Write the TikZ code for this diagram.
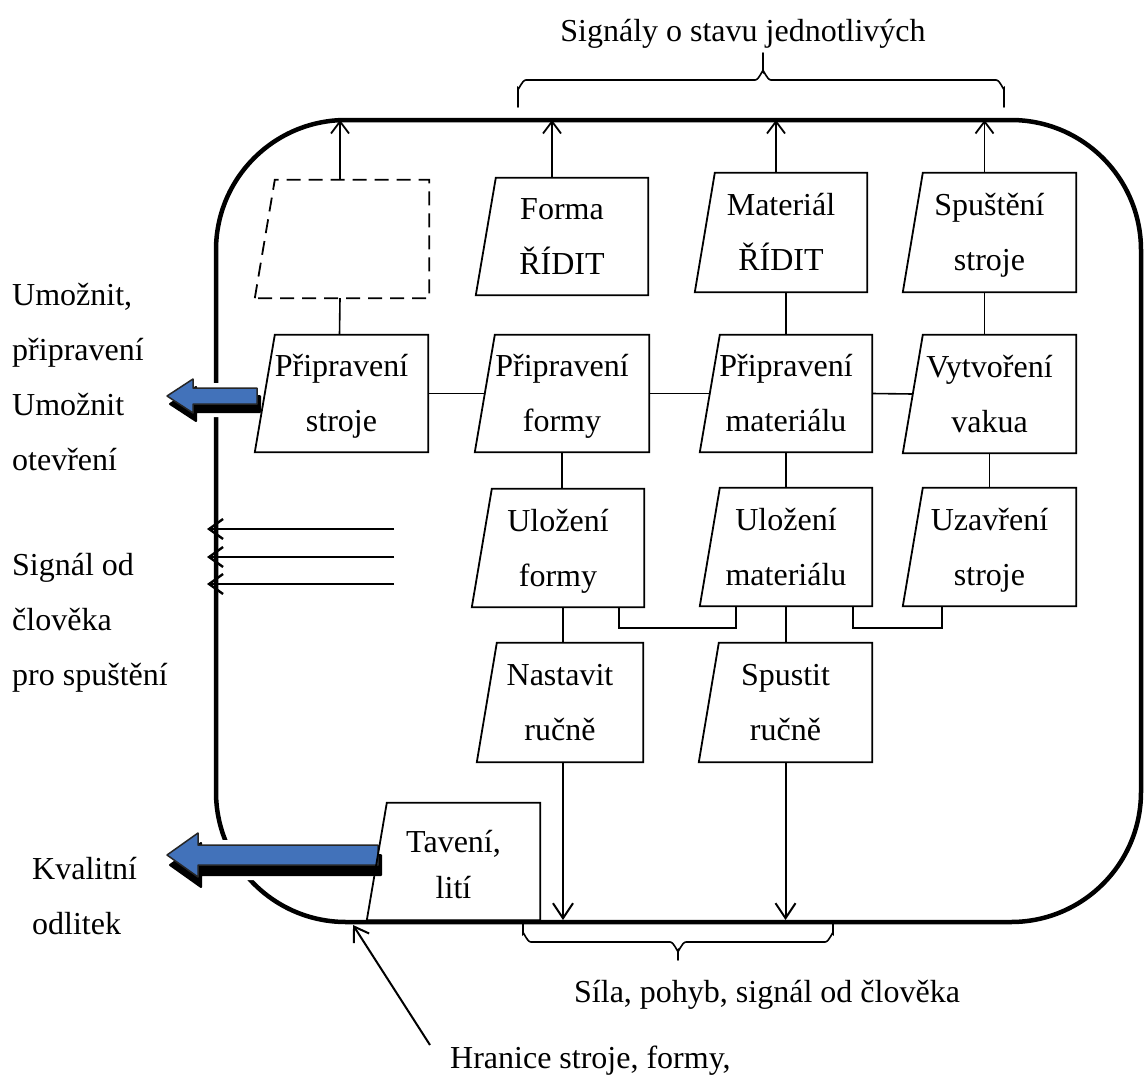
\documentclass[tikz,border=0pt]{standalone}
\usepackage{fontspec}
\setmainfont{Liberation Serif}
\usetikzlibrary{arrows.meta,calc}
\definecolor{arrowblue}{RGB}{66,114,186}
\newcommand\twol[2]{\rule{0pt}{30pt}#1\\#2\rule[-9pt]{0pt}{9pt}}
% #1 outline style, #2 name, #3 x0, #4 x1, #5 y0, #6 y1, #7 text
\newcommand\manbox[7][boxline]{%
  \node[boxtext, minimum width={#4-#3}, minimum height={#6-#5}] (#2) at ({(#3+#4)/2},{(#5+#6)/2}) {#7};
  \draw[#1] (#2.south west) -- ([xshift=20pt]#2.north west) -- (#2.north east) -- (#2.south east) -- cycle;}
% #1 tip x, #2 centre y, #3 tail x, #4 head back x, #5 head half, #6 shaft half, #7 shadow dy
\newcommand\bluearrow[7]{%
  \filldraw[white,line width=10pt,line join=round] (#3,#2-#6) -- (#4,#2-#6) -- (#4,#2-#5) -- (#1,#2) -- (#4,#2+#5) -- (#4,#2+#6) -- (#3,#2+#6) -- cycle;
  \begin{scope}[shift={(3,#7)}]
  \filldraw[white,line width=10pt,line join=round] (#3,#2-#6) -- (#4,#2-#6) -- (#4,#2-#5) -- (#1,#2) -- (#4,#2+#5) -- (#4,#2+#6) -- (#3,#2+#6) -- cycle;
  \filldraw[black,line width=2pt,line join=round] (#3,#2-#6) -- (#4,#2-#6) -- (#4,#2-#5) -- (#1,#2) -- (#4,#2+#5) -- (#4,#2+#6) -- (#3,#2+#6) -- cycle;
  \end{scope}
  \filldraw[fill=arrowblue,draw=black!85,line width=1.5pt,line join=round] (#3,#2-#6) -- (#4,#2-#6) -- (#4,#2-#5) -- (#1,#2) -- (#4,#2+#5) -- (#4,#2+#6) -- (#3,#2+#6) -- cycle;}

\begin{document}
\begin{tikzpicture}[x=1pt,y=-1pt,
  boxtext/.style={font=\fontsize{32}{55}\selectfont, align=center, inner sep=0pt},
  boxline/.style={line width=1.8pt, line join=miter},
  dashbox/.style={line width=1.8pt, dash pattern=on 14pt off 8pt},
  lbl/.style={font=\fontsize{32}{55}\selectfont, align=left, inner sep=0pt},
  conn/.style={line width=1.6pt},
  uparrow/.style={line width=1.8pt, -{Straight Barb[length=12pt,width=18pt]}},
  downarrow/.style={line width=2pt, -{Straight Barb[length=15pt,width=20pt]}},
  inarrow/.style={line width=2.4pt, -{Straight Barb[length=14pt,width=20pt]}},
  brace/.style={line width=1.6pt, line cap=round}]
\useasboundingbox (0,0) rectangle (1144,1079);

% system boundary
\draw[line width=4.5pt, rounded corners=130pt] (216,120) rectangle (1141,922);
\coordinate (topl) at (0,120);
\coordinate (botl) at (0,920);
\coordinate (leftl) at (207,0);

% block arrows (outputs)
\bluearrow{167}{396}{257}{193}{17}{8}{8}
\bluearrow{167}{855}{378}{198}{22}{10}{10}

% boxes
\manbox[dashbox]{db}{255}{429}{180}{298}{}
\manbox{fr}{476}{648}{178}{295}{\twol{Forma}{ŘÍDIT}}
\manbox{mr}{695}{867}{173}{292}{\twol{Materiál}{ŘÍDIT}}
\manbox{sp}{903}{1076}{173}{292}{\twol{Spuštění}{stroje}}
\manbox{ps}{255}{428}{335}{452}{\twol{Připravení}{stroje}}
\manbox{pf}{475}{649}{335}{452}{\twol{Připravení}{formy}}
\manbox{pm}{700}{872}{335}{452}{\twol{Připravení}{materiálu}}
\manbox{vv}{903}{1076}{335}{453}{\twol{Vytvoření}{vakua}}
\manbox{uf}{472}{644}{489}{607}{\twol{Uložení}{formy}}
\manbox{um}{700}{872}{488}{606}{\twol{Uložení}{materiálu}}
\manbox{uz}{903}{1076}{488}{606}{\twol{Uzavření}{stroje}}
\manbox{nr}{477}{643}{643}{762}{\twol{Nastavit}{ručně}}
\manbox{sr}{699}{872}{643}{762}{\twol{Spustit}{ručně}}
\node[boxtext, font=\fontsize{32}{46}\selectfont, minimum width=173, minimum height=117] (tl) at (453.5,861.5) {\rule{0pt}{30pt}Tavení,\\lití\rule[-3pt]{0pt}{3pt}};
\draw[boxline] (tl.south west) -- ([xshift=20pt]tl.north west) -- (tl.north east) -- (tl.south east) -- cycle;

% arrows up to the boundary
\draw[uparrow] ([xshift=-2pt]db.north) -- ([xshift=-2pt]db.north |- topl);
\draw[uparrow] ([xshift=-10pt]fr.north) -- ([xshift=-10pt]fr.north |- topl);
\draw[uparrow] ([xshift=-5pt]mr.north) -- ([xshift=-5pt]mr.north |- topl);
\draw[uparrow] ([xshift=-5pt]sp.north) -- ([xshift=-5pt]sp.north |- topl);

% vertical connectors
\draw[conn] ([xshift=-2pt]db.south) -- ([xshift=-2pt]ps.north);
\draw[conn] (fr.south) -- (fr.south -| pf.north);
\draw[conn] (mr.south -| pm.north) -- (pm.north);
\draw[conn] ([xshift=-5pt]sp.south) -- ([xshift=-5pt]vv.north);
\draw[conn] (pf.south) -- (pf.south |- uf.north);
\draw[conn] (pm.south) -- (um.north);
\draw[conn] (vv.south) -- (vv.south |- uz.north);
\draw[conn] ([xshift=5pt]uf.south) -- ([xshift=5pt]uf.south |- nr.north);
\draw[conn] (um.south) -- (um.south |- sr.north);

% horizontal connectors
\draw[conn] (ps.east) -- ([xshift=10pt]pf.west);
\draw[conn] (pf.east) -- ([xshift=10pt]pm.west);
\draw[conn] (pm.east) -- ([xshift=10pt]vv.west);

% bracket connectors
\draw[conn] ([xshift=-25pt]uf.south east) -- ++(0,21) -| ([xshift=36pt]um.south west);
\draw[conn] ([xshift=-19pt]um.south east) -- ++(0,22) -| ([xshift=39pt]uz.south west);

% arrows down to the boundary
\draw[downarrow] ([xshift=3pt]nr.south) -- ([xshift=3pt]nr.south |- botl);
\draw[downarrow] (sr.south) -- (sr.south |- botl);

% incoming signals from the operator
\coordinate (s1) at (394,529);
\coordinate (s2) at (394,557);
\coordinate (s3) at (394,584);
\draw[inarrow] (s1) -- (s1 -| leftl);
\draw[inarrow] (s2) -- (s2 -| leftl);
\draw[inarrow] (s3) -- (s3 -| leftl);

% labels
\node[lbl, anchor=base] (title) at (743,41) {Signály o stavu jednotlivých};
\node[lbl, anchor=north west] (lab1) at (12,275) {\rule{0pt}{30pt}Umožnit,\\připravení\\Umožnit\\otevření};
\node[lbl, anchor=north west] (lab2) at (12,545) {\rule{0pt}{30pt}Signál od\\člověka\\pro spuštění};
\node[lbl, anchor=north west] (lab3) at (32,849) {\rule{0pt}{30pt}Kvalitní\\odlitek};
\node[lbl, anchor=base west] (sila) at (574,1002) {Síla, pohyb, signál od člověka};
\node[lbl, anchor=base west] (hran) at (450,1068) {Hranice stroje, formy,};

% braces
\draw[brace] (518,107) -- (518,88) to[out=-90,in=180] (526,80) -- (755,80) to[out=0,in=90] (763,72) -- (763,53);
\draw[brace] (763,72) to[out=90,in=180] (771,80) -- (996,80) to[out=0,in=-90] (1004,88) -- (1004,107);
\draw[brace] (523,923) -- (523,934) to[out=90,in=180] (531,942) -- (670,942) to[out=0,in=-90] (678,950) -- (678,960);
\draw[brace] (678,950) to[out=-90,in=180] (686,942) -- (825,942) to[out=0,in=90] (833,934) -- (833,923);

% boundary pointer
\coordinate (hp) at (430,1045);
\draw[line width=2pt, -{Straight Barb[length=14pt,width=18pt]}] (hp) -- (353,925);
\end{tikzpicture}
\end{document}
